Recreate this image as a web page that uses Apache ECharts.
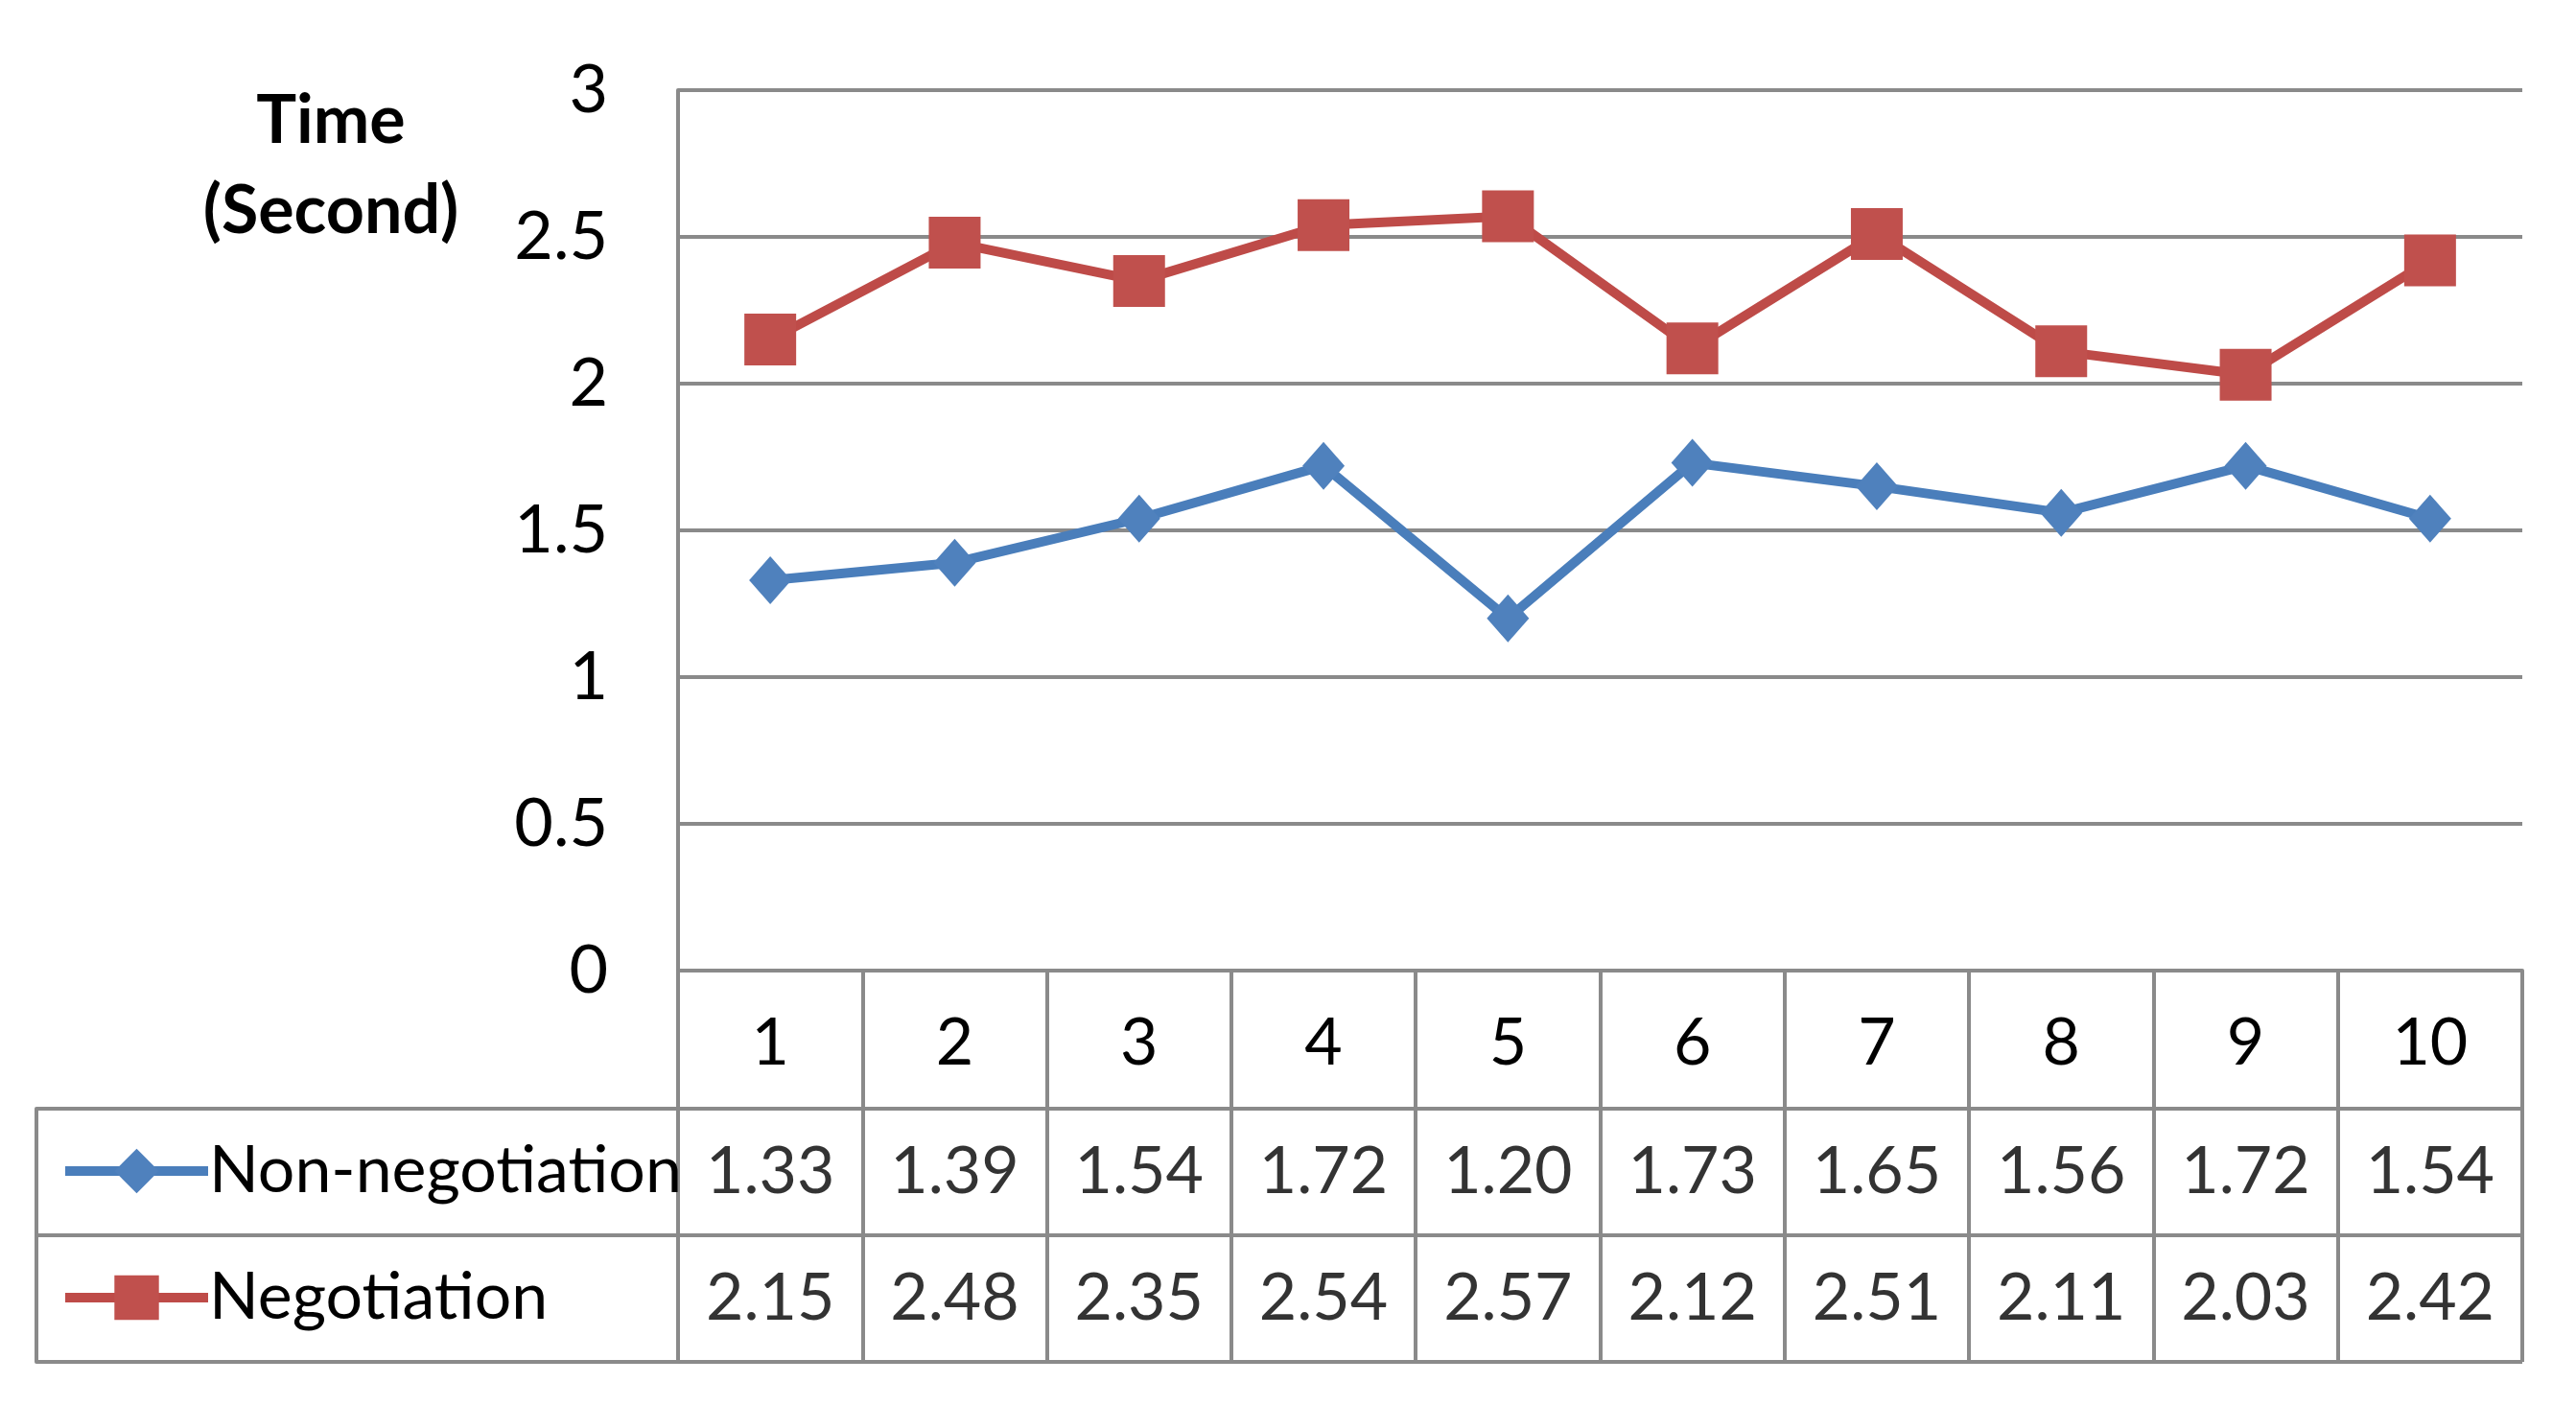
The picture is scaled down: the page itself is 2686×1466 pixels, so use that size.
<!DOCTYPE html>
<html><head><meta charset="utf-8">
<script src="https://cdn.jsdelivr.net/npm/echarts@6/dist/echarts.min.js"></script>
<style>html,body{margin:0;padding:0;background:#fff}#c{width:2686px;height:1466px}</style>
</head><body><div id="c"></div>
<script>
const categories = ['1','2','3','4','5','6','7','8','9','10'];
const nonNegotiation = [1.33,1.39,1.54,1.72,1.20,1.73,1.65,1.56,1.72,1.54];
const negotiation = [2.15,2.48,2.35,2.54,2.57,2.12,2.51,2.11,2.03,2.42];
const seriesNames = ['Non-negotiation','Negotiation'];
const yMin = 0, yMax = 3, yStep = 0.5;

const W = 2686;
const L = 707, RGT = 2630, TOP = 94, PB = 1012, ROW1 = 1156, ROW3 = 1420, TL = 38;
const GRAY = '#8a8a8a', LW = 4;
const FONT = 'Lato';
const TXT = '#000';
const BLUE = '#4A7EBB', BLUE_M = '#4F81BD', RED = '#BE4B48', RED_M = '#C0504D';

const tableData = [];
nonNegotiation.forEach((v, i) => tableData.push([categories[i], seriesNames[0], v]));
negotiation.forEach((v, i) => tableData.push([categories[i], seriesNames[1], v]));

const rowH = (ROW3 - ROW1) / 2;
const legendCommon = {
  left: 58, itemWidth: 149, itemHeight: 58, selectedMode: false,
  textStyle: {fontFamily: FONT, fontSize: 68, color: TXT, padding: [0, 0, 0, -4]},
  lineStyle: {width: 10}
};

const chart = echarts.init(document.getElementById('c'));
chart.setOption({
  animation: false,
  backgroundColor: '#fff',
  title: {
    text: 'Time\n(Second)', left: 340, textAlign: 'center', top: 74,
    textStyle: {fontFamily: FONT, fontWeight: 'bold', fontSize: 70, lineHeight: 94, color: '#000'}
  },
  legend: [
    Object.assign({}, legendCommon, {data: [seriesNames[0]], top: ROW1 + rowH / 2 - 40}),
    Object.assign({}, legendCommon, {data: [seriesNames[1]], top: ROW1 + rowH * 1.5 - 40})
  ],
  grid: [
    {left: L, right: W - RGT, top: TOP, height: PB - TOP},
    {left: L, right: W - RGT, top: ROW1, height: ROW3 - ROW1}
  ],
  xAxis: [
    {
      type: 'category', data: categories, gridIndex: 0, boundaryGap: true,
      axisLine: {show: true, lineStyle: {color: GRAY, width: LW}},
      axisTick: {show: true, interval: 0, length: ROW3 - PB, lineStyle: {color: GRAY, width: LW}},
      axisLabel: {interval: 0, margin: (ROW1 - PB) / 2 + 4, verticalAlign: 'middle', fontFamily: FONT, fontSize: 68, color: TXT},
      splitLine: {show: false}
    },
    {type: 'category', data: categories, gridIndex: 1, show: false}
  ],
  yAxis: [
    {
      type: 'value', min: yMin, max: yMax, interval: yStep, gridIndex: 0,
      axisLine: {show: true, lineStyle: {color: GRAY, width: LW}},
      axisTick: {show: false},
      splitLine: {show: true, lineStyle: {color: GRAY, width: LW}},
      axisLabel: {fontFamily: FONT, fontSize: 70, color: TXT, margin: 73}
    },
    {
      type: 'category', data: seriesNames, gridIndex: 1, inverse: true, boundaryGap: true,
      axisLine: {show: true, lineStyle: {color: GRAY, width: LW}},
      axisTick: {show: true, interval: 0, length: L - TL, lineStyle: {color: GRAY, width: LW}},
      axisLabel: {show: false},
      splitLine: {show: true, interval: 0, lineStyle: {color: GRAY, width: LW}}
    },
    {
      type: 'value', gridIndex: 1, position: 'left', offset: L - TL, min: 0, max: 1,
      axisLine: {show: true, lineStyle: {color: GRAY, width: LW}},
      axisTick: {show: false}, axisLabel: {show: false}, splitLine: {show: false}
    }
  ],
  series: [
    {
      name: seriesNames[0], type: 'line', data: nonNegotiation, xAxisIndex: 0, yAxisIndex: 0,
      symbol: 'diamond', symbolSize: [44, 50], showAllSymbol: true,
      lineStyle: {color: BLUE, width: 10}, itemStyle: {color: BLUE_M}, z: 3
    },
    {
      name: seriesNames[1], type: 'line', data: negotiation, xAxisIndex: 0, yAxisIndex: 0,
      symbol: 'rect', symbolSize: 54, showAllSymbol: true,
      lineStyle: {color: RED, width: 10}, itemStyle: {color: RED_M}, z: 3
    },
    {
      type: 'scatter', xAxisIndex: 1, yAxisIndex: 1, data: tableData, silent: true,
      symbolSize: 1, itemStyle: {color: 'rgba(0,0,0,0)'},
      label: {show: true, position: 'inside', formatter: p => p.value[2].toFixed(2),
        fontFamily: FONT, fontSize: 68, color: TXT}
    }
  ]
});
</script></body></html>
